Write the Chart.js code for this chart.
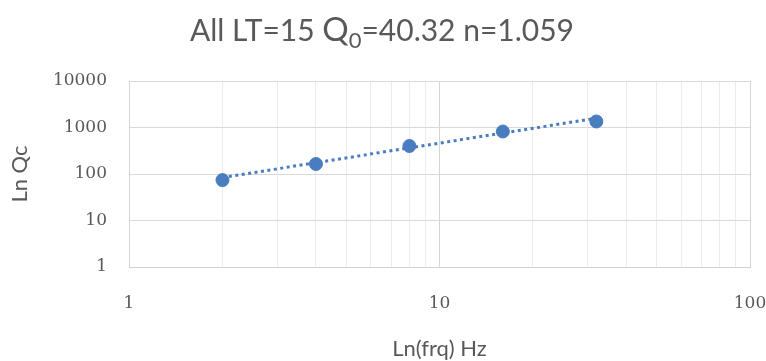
<!DOCTYPE html>
<html>
<head>
<meta charset="utf-8">
<script src="https://cdn.jsdelivr.net/npm/chart.js@4/dist/chart.umd.min.js"></script>
<style>
  html, body { margin: 0; padding: 0; background: #fff; }
  #wrap { width: 766px; height: 361px; }
</style>
</head>
<body>
<div id="wrap"><canvas id="qcChart" width="766" height="361"></canvas></div>
<script>
// measured points (frequency Hz, Qc)
const freqs = [2, 4, 8, 16, 32];
const qcValues = [74, 164, 400, 820, 1346];

// power-law trendline end points
const trendFreqs = [2, 32];
const trendQc = [84, 1583];

// axis ticks
const xTicks = [1, 2, 3, 4, 5, 6, 7, 8, 9, 10, 20, 30, 40, 50, 60, 70, 80, 90, 100];
const xLabels = [1, 10, 100];
const yTicks = [1, 10, 100, 1000, 10000];

// title pieces: [text, font size, baseline shift]
const titleParts = [
  ['All LT=15 ', 30, 0],
  ['Q', 33, 0],
  ['0', 22, 7],
  ['=40.32 n=1.059', 30, 0]
];

const blue = '#4a7cc0';
const textGrey = '#595959';

// draws the title with the large Q and subscript 0
const richTitle = {
  id: 'richTitle',
  afterDraw(chart) {
    const c = chart.ctx;
    c.save();
    c.fillStyle = textGrey;
    c.textBaseline = 'alphabetic';
    let total = 0;
    titleParts.forEach(p => {
      c.font = p[1] + 'px Lato';
      total += c.measureText(p[0]).width;
    });
    let x = 382 - total / 2;
    titleParts.forEach(p => {
      c.font = p[1] + 'px Lato';
      c.fillText(p[0], x, 41 + p[2]);
      x += c.measureText(p[0]).width;
    });
    c.restore();
  }
};

const ctx = document.getElementById('qcChart').getContext('2d');

new Chart(ctx, {
  type: 'scatter',
  data: {
    datasets: [
      {
        label: 'Qc',
        data: freqs.map((f, i) => ({ x: f, y: qcValues[i] })),
        backgroundColor: blue,
        borderColor: blue,
        pointRadius: 6.5,
        pointHoverRadius: 6.5,
        showLine: false,
        order: 1
      },
      {
        label: 'Trend',
        data: trendFreqs.map((f, i) => ({ x: f, y: trendQc[i] })),
        borderColor: blue,
        borderWidth: 3,
        borderDash: [3, 3.5],
        pointRadius: 0,
        showLine: true,
        fill: false,
        order: 2
      }
    ]
  },
  plugins: [richTitle],
  options: {
    responsive: false,
    animation: false,
    layout: { padding: { left: 0, right: 16, top: 81, bottom: 0 } },
    plugins: {
      legend: { display: false },
      tooltip: { enabled: false },
      title: { display: false }
    },
    scales: {
      x: {
        type: 'logarithmic',
        min: 1,
        max: 100,
        afterBuildTicks: (scale) => { scale.ticks = xTicks.map(v => ({ value: v })); },
        afterFit: (scale) => {
          scale.height = 94;
          scale.paddingLeft = 0;
          scale.paddingRight = 0; // don't let the "100" label shrink the plot
        },
        ticks: {
          autoSkip: false,
          maxRotation: 0,
          padding: 26,
          color: textGrey,
          font: { family: 'DejaVu Serif', size: 17 },
          callback: (v) => xLabels.includes(v) ? String(v) : ''
        },
        grid: {
          drawTicks: false,
          color: (c) => {
            const v = c.tick ? c.tick.value : 0;
            return xLabels.includes(v) ? '#d4d4d4' : '#ececec';
          }
        },
        border: { color: '#d4d4d4' },
        title: {
          display: true,
          text: 'Ln(frq) Hz',
          color: textGrey,
          font: { family: 'Lato', size: 22, lineHeight: 1 },
          padding: { top: 0, bottom: 1 }
        }
      },
      y: {
        type: 'logarithmic',
        min: 1,
        max: 10000,
        afterBuildTicks: (scale) => { scale.ticks = yTicks.map(v => ({ value: v })); },
        afterFit: (scale) => { scale.width = 129; },
        ticks: {
          padding: 22,
          color: textGrey,
          font: { family: 'DejaVu Serif', size: 17 },
          callback: (v) => String(v)
        },
        grid: { drawTicks: false, color: '#d9d9d9' },
        border: { color: '#d4d4d4' },
        title: {
          display: true,
          text: 'Ln Qc',
          color: textGrey,
          font: { family: 'Lato', size: 22, lineHeight: 1 },
          padding: { top: 9, bottom: 0 }
        }
      }
    }
  }
});
</script>
</body>
</html>
